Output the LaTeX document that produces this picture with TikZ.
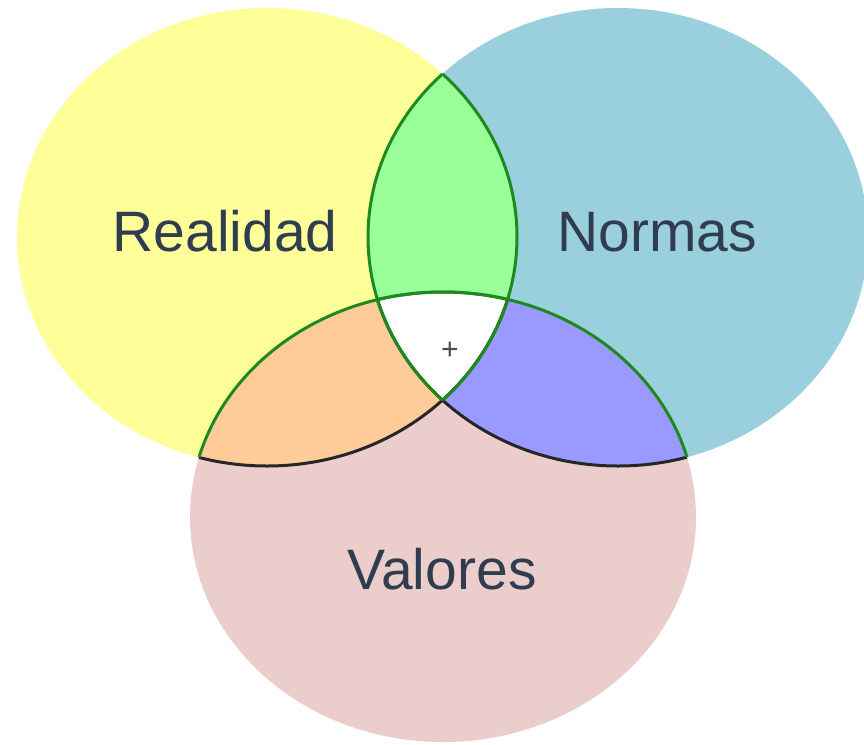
\documentclass[tikz,border=0pt]{standalone}
\usepackage{fontspec}
\setmainfont{Liberation Sans}
\definecolor{cyel}{HTML}{FFFF99}
\definecolor{cblu}{HTML}{9ACFDD}
\definecolor{cpnk}{HTML}{EBCDCC}
\definecolor{cgrn}{HTML}{99FF99}
\definecolor{corg}{HTML}{FFCC99}
\definecolor{cpur}{HTML}{9999FF}
\definecolor{lgrn}{HTML}{1E8A1E}
\definecolor{txtc}{HTML}{2F3D4F}
\begin{document}
\begin{tikzpicture}[x=1pt,y=-1pt,
  lbl/.style={font=\fontsize{57}{60}\selectfont, text=txtc, inner sep=0pt},
  gline/.style={draw=lgrn, line width=3pt},
  bline/.style={draw=black!85, line width=3pt}]
\useasboundingbox (0,0) rectangle (864,744);
\clip (0,0) rectangle (864,744);
% base circles
\fill[cyel] (267,237) ellipse [x radius=250, y radius=229];
\fill[cblu] (618,237) ellipse [x radius=250, y radius=229];
\fill[cpnk] (443,517) ellipse [x radius=253, y radius=225];
% pairwise intersections
\begin{scope}
  \clip (267,237) ellipse [x radius=250, y radius=229];
  \fill[cgrn] (618,237) ellipse [x radius=250, y radius=229];
  \fill[corg] (443,517) ellipse [x radius=253, y radius=225];
\end{scope}
\begin{scope}
  \clip (618,237) ellipse [x radius=250, y radius=229];
  \fill[cpur] (443,517) ellipse [x radius=253, y radius=225];
\end{scope}
% triple intersection
\begin{scope}
  \clip (267,237) ellipse [x radius=250, y radius=229];
  \clip (618,237) ellipse [x radius=250, y radius=229];
  \fill[white] (443,517) ellipse [x radius=253, y radius=225];
\end{scope}
% black borders inside pink
\begin{scope}
  \clip (443,517) ellipse [x radius=253, y radius=225];
  \draw[bline] (267,237) ellipse [x radius=250, y radius=229];
  \draw[bline] (618,237) ellipse [x radius=250, y radius=229];
\end{scope}
% green borders
\begin{scope}
  \clip (618,237) ellipse [x radius=250, y radius=229];
  \draw[gline] (267,237) ellipse [x radius=250, y radius=229];
  \draw[gline] (443,517) ellipse [x radius=253, y radius=225];
\end{scope}
\begin{scope}
  \clip (267,237) ellipse [x radius=250, y radius=229];
  \draw[gline] (618,237) ellipse [x radius=250, y radius=229];
  \draw[gline] (443,517) ellipse [x radius=253, y radius=225];
\end{scope}
% labels
\node[lbl] (realidad) at (225,231) {Realidad};
\node[lbl] (normas) at (657,232) {Normas};
\node[lbl] (valores) at (442,569) {Valores};
\node[font=\fontsize{30}{30}\selectfont, text=black!70, inner sep=0pt] (plus) at (450,351) {+};
\end{tikzpicture}
\end{document}
